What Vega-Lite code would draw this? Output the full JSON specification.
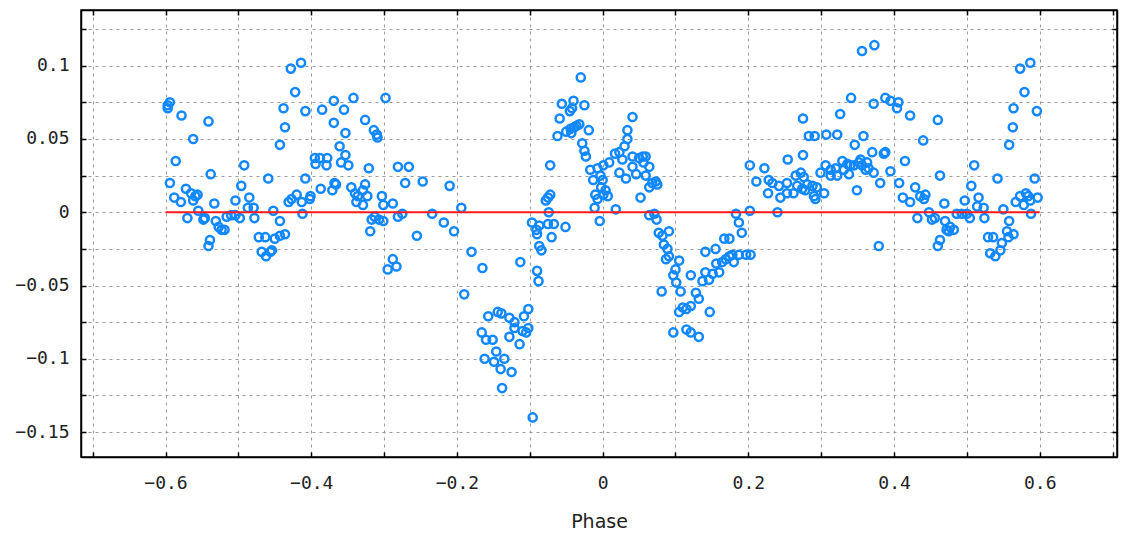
{
"$schema":"https://vega.github.io/schema/vega-lite/v6.json",
"width":1036,"height":447,
"autosize":{"type":"none"},
"padding":{"left":81,"top":10,"right":4,"bottom":76},
"background":"white",
"config":{
 "view":{"stroke":"#000","strokeWidth":1.5},
 "axis":{"domainColor":"#000","domainWidth":1.5,"tickColor":"#000","tickWidth":1.5,"tickSize":-5,
  "gridColor":"#9a9a9a","gridDash":[3,4],"gridWidth":1,
  "labelFont":"DejaVu Sans Mono","labelFontSize":18,"labelColor":"#222","titleFont":"DejaVu Sans","titleFontSize":19,"titleFontWeight":"normal","titleColor":"#222"}
},
"datasets":{
"zero":[{"phase":-0.6,"value":0},{"phase":0.6,"value":0}],
"pts":[
{"phase":-0.597,"value":0.073},{"phase":-0.594,"value":0.075},{"phase":-0.597,"value":0.071},{"phase":-0.578,"value":0.066},{"phase":-0.541,"value":0.062},{"phase":-0.562,"value":0.050},{"phase":-0.586,"value":0.035},{"phase":-0.538,"value":0.026},{"phase":-0.492,"value":0.032},{"phase":-0.594,"value":0.020},{"phase":-0.588,"value":0.010},{"phase":-0.572,"value":0.016},{"phase":-0.579,"value":0.007},{"phase":-0.565,"value":0.013},{"phase":-0.559,"value":0.011},{"phase":-0.556,"value":0.012},{"phase":-0.562,"value":0.008},{"phase":-0.570,"value":-0.004},{"phase":-0.555,"value":0.001},{"phase":-0.548,"value":-0.005},{"phase":-0.546,"value":-0.004},{"phase":-0.533,"value":0.006},{"phase":-0.531,"value":-0.006},{"phase":-0.527,"value":-0.010},{"phase":-0.523,"value":-0.012},{"phase":-0.519,"value":-0.012},{"phase":-0.539,"value":-0.019},{"phase":-0.541,"value":-0.023},{"phase":-0.516,"value":-0.003},{"phase":-0.510,"value":-0.002},{"phase":-0.504,"value":-0.002},{"phase":-0.504,"value":0.008},{"phase":-0.496,"value":0.018},{"phase":-0.498,"value":-0.004},{"phase":-0.485,"value":0.010},{"phase":-0.487,"value":0.003},{"phase":-0.479,"value":0.003},{"phase":-0.478,"value":-0.004},{"phase":-0.472,"value":-0.017},{"phase":-0.463,"value":-0.017},{"phase":-0.468,"value":-0.027},{"phase":-0.462,"value":-0.030},{"phase":-0.456,"value":-0.027},{"phase":-0.454,"value":-0.026},{"phase":-0.450,"value":-0.018},{"phase":-0.443,"value":-0.016},{"phase":-0.436,"value":-0.015},{"phase":-0.443,"value":-0.006},{"phase":-0.452,"value":0.001},{"phase":-0.459,"value":0.023},{"phase":-0.431,"value":0.007},{"phase":-0.427,"value":0.009},{"phase":-0.420,"value":0.012},{"phase":-0.413,"value":0.007},{"phase":-0.412,"value":-0.001},{"phase":-0.408,"value":0.023},{"phase":-0.443,"value":0.046},{"phase":-0.436,"value":0.058},{"phase":-0.438,"value":0.071},{"phase":-0.422,"value":0.082},{"phase":-0.428,"value":0.098},{"phase":-0.414,"value":0.102},{"phase":-0.408,"value":0.069},
{"phase":-0.385,"value":0.070},{"phase":-0.369,"value":0.076},{"phase":-0.355,"value":0.070},{"phase":-0.342,"value":0.078},{"phase":-0.298,"value":0.078},{"phase":-0.369,"value":0.061},{"phase":-0.353,"value":0.054},{"phase":-0.326,"value":0.063},{"phase":-0.314,"value":0.056},{"phase":-0.310,"value":0.053},{"phase":-0.309,"value":0.051},{"phase":-0.361,"value":0.045},{"phase":-0.353,"value":0.039},{"phase":-0.395,"value":0.037},{"phase":-0.388,"value":0.037},{"phase":-0.378,"value":0.037},{"phase":-0.394,"value":0.033},{"phase":-0.379,"value":0.032},{"phase":-0.359,"value":0.034},{"phase":-0.349,"value":0.032},{"phase":-0.321,"value":0.030},{"phase":-0.281,"value":0.031},{"phase":-0.266,"value":0.031},{"phase":-0.271,"value":0.020},{"phase":-0.247,"value":0.021},{"phase":-0.210,"value":0.018},{"phase":-0.401,"value":0.011},{"phase":-0.402,"value":0.009},{"phase":-0.387,"value":0.016},{"phase":-0.371,"value":0.015},{"phase":-0.368,"value":0.020},{"phase":-0.366,"value":0.019},{"phase":-0.345,"value":0.017},{"phase":-0.340,"value":0.013},{"phase":-0.336,"value":0.011},{"phase":-0.338,"value":0.007},{"phase":-0.329,"value":0.015},{"phase":-0.326,"value":0.019},{"phase":-0.323,"value":0.011},{"phase":-0.329,"value":0.005},{"phase":-0.303,"value":0.011},{"phase":-0.301,"value":0.005},{"phase":-0.317,"value":-0.005},{"phase":-0.313,"value":-0.003},{"phase":-0.307,"value":-0.005},{"phase":-0.301,"value":-0.006},{"phase":-0.319,"value":-0.013},{"phase":-0.288,"value":0.006},{"phase":-0.281,"value":-0.003},{"phase":-0.275,"value":-0.001},{"phase":-0.255,"value":-0.016},{"phase":-0.234,"value":-0.001},{"phase":-0.218,"value":-0.007},{"phase":-0.204,"value":-0.013},{"phase":-0.295,"value":-0.039},{"phase":-0.288,"value":-0.032},{"phase":-0.283,"value":-0.037},
{"phase":-0.194,"value":0.003},{"phase":-0.180,"value":-0.027},{"phase":-0.165,"value":-0.038},{"phase":-0.190,"value":-0.056},{"phase":-0.113,"value":-0.034},{"phase":-0.157,"value":-0.071},{"phase":-0.144,"value":-0.068},{"phase":-0.139,"value":-0.069},{"phase":-0.128,"value":-0.072},{"phase":-0.121,"value":-0.075},{"phase":-0.108,"value":-0.071},{"phase":-0.102,"value":-0.066},{"phase":-0.166,"value":-0.082},{"phase":-0.160,"value":-0.087},{"phase":-0.151,"value":-0.087},{"phase":-0.128,"value":-0.085},{"phase":-0.114,"value":-0.090},{"phase":-0.110,"value":-0.081},{"phase":-0.105,"value":-0.082},{"phase":-0.102,"value":-0.079},{"phase":-0.121,"value":-0.079},{"phase":-0.162,"value":-0.100},{"phase":-0.149,"value":-0.102},{"phase":-0.146,"value":-0.095},{"phase":-0.135,"value":-0.100},{"phase":-0.140,"value":-0.107},{"phase":-0.125,"value":-0.109},{"phase":-0.138,"value":-0.120},{"phase":-0.096,"value":-0.140},{"phase":-0.097,"value":-0.007},{"phase":-0.091,"value":-0.012},{"phase":-0.087,"value":-0.009},{"phase":-0.090,"value":-0.015},{"phase":-0.087,"value":-0.023},{"phase":-0.084,"value":-0.026},{"phase":-0.090,"value":-0.040},{"phase":-0.088,"value":-0.047},{"phase":-0.075,"value":-0.008},{"phase":-0.067,"value":-0.008},{"phase":-0.070,"value":-0.017},{"phase":-0.051,"value":-0.010},{"phase":-0.074,"value":0.000},{"phase":-0.078,"value":0.008},{"phase":-0.072,"value":0.012},{"phase":-0.075,"value":0.010},{"phase":-0.072,"value":0.032},{"phase":-0.062,"value":0.052},{"phase":-0.059,"value":0.064},{"phase":-0.056,"value":0.074},{"phase":-0.050,"value":0.055},{"phase":-0.044,"value":0.057},{"phase":-0.039,"value":0.058},{"phase":-0.032,"value":0.060},{"phase":-0.036,"value":0.059},{"phase":-0.043,"value":0.054},{"phase":-0.040,"value":0.076},{"phase":-0.042,"value":0.071},{"phase":-0.045,"value":0.069},{"phase":-0.025,"value":0.073},{"phase":-0.030,"value":0.092},{"phase":-0.019,"value":0.056},{"phase":-0.028,"value":0.047},{"phase":-0.025,"value":0.042},{"phase":-0.023,"value":0.038},{"phase":-0.017,"value":0.029},{"phase":-0.013,"value":0.022},{"phase":-0.007,"value":0.030},{"phase":-0.003,"value":0.025},{"phase":-0.010,"value":0.012},{"phase":-0.007,"value":0.009},{"phase":-0.011,"value":0.003},{"phase":-0.004,"value":-0.006},
{"phase":0.041,"value":0.065},{"phase":0.034,"value":0.056},{"phase":0.034,"value":0.050},{"phase":0.030,"value":0.045},{"phase":0.017,"value":0.040},{"phase":0.023,"value":0.041},{"phase":0.027,"value":0.036},{"phase":0.009,"value":0.034},{"phase":0.001,"value":0.032},{"phase":0.041,"value":0.038},{"phase":0.050,"value":0.037},{"phase":0.055,"value":0.038},{"phase":0.059,"value":0.038},{"phase":0.064,"value":0.031},{"phase":0.056,"value":0.034},{"phase":0.023,"value":0.027},{"phase":0.032,"value":0.023},{"phase":0.046,"value":0.026},{"phase":0.041,"value":0.031},{"phase":0.059,"value":0.025},{"phase":0.064,"value":0.017},{"phase":0.068,"value":0.020},{"phase":0.073,"value":0.021},{"phase":0.075,"value":0.019},{"phase":0.052,"value":0.010},{"phase":0.000,"value":0.022},{"phase":0.004,"value":0.015},{"phase":0.007,"value":0.011},{"phase":0.001,"value":0.012},{"phase":-0.002,"value":0.017},{"phase":0.018,"value":0.002},{"phase":0.064,"value":-0.002},{"phase":0.071,"value":-0.001},{"phase":0.074,"value":-0.005},{"phase":0.077,"value":-0.014},{"phase":0.082,"value":-0.016},{"phase":0.091,"value":-0.013},{"phase":0.084,"value":-0.022},{"phase":0.089,"value":-0.025},{"phase":0.091,"value":-0.030},{"phase":0.087,"value":-0.032},{"phase":0.081,"value":-0.054},{"phase":0.105,"value":-0.033},{"phase":0.100,"value":-0.039},{"phase":0.097,"value":-0.043},{"phase":0.101,"value":-0.048},{"phase":0.107,"value":-0.054},{"phase":0.110,"value":-0.065},{"phase":0.105,"value":-0.068},{"phase":0.115,"value":-0.066},{"phase":0.121,"value":-0.064},{"phase":0.097,"value":-0.082},{"phase":0.115,"value":-0.080},{"phase":0.121,"value":-0.082},{"phase":0.132,"value":-0.085},{"phase":0.121,"value":-0.043},{"phase":0.128,"value":-0.055},{"phase":0.132,"value":-0.059},{"phase":0.137,"value":-0.047},{"phase":0.141,"value":-0.041},{"phase":0.146,"value":-0.046},{"phase":0.141,"value":-0.027},{"phase":0.147,"value":-0.068},{"phase":0.151,"value":-0.042},{"phase":0.156,"value":-0.035},{"phase":0.160,"value":-0.041},{"phase":0.164,"value":-0.034},{"phase":0.169,"value":-0.032},{"phase":0.174,"value":-0.030},{"phase":0.155,"value":-0.025},{"phase":0.167,"value":-0.018},{"phase":0.174,"value":-0.018},{"phase":0.178,"value":-0.029},{"phase":0.187,"value":-0.029},{"phase":0.197,"value":-0.029},{"phase":0.203,"value":-0.029},{"phase":0.183,"value":-0.001},{"phase":0.187,"value":-0.007},{"phase":0.191,"value":-0.014},{"phase":0.180,"value":-0.034},{"phase":0.202,"value":0.032},{"phase":0.202,"value":0.001},
{"phase":0.222,"value":0.030},{"phase":0.211,"value":0.021},{"phase":0.240,"value":0.000},{"phase":0.228,"value":0.022},{"phase":0.233,"value":0.020},{"phase":0.227,"value":0.013},{"phase":0.242,"value":0.018},{"phase":0.244,"value":0.010},{"phase":0.253,"value":0.013},{"phase":0.253,"value":0.020},{"phase":0.254,"value":0.036},{"phase":0.275,"value":0.039},{"phase":0.275,"value":0.064},{"phase":0.283,"value":0.052},{"phase":0.291,"value":0.052},{"phase":0.307,"value":0.053},{"phase":0.322,"value":0.053},{"phase":0.326,"value":0.067},{"phase":0.341,"value":0.078},{"phase":0.356,"value":0.110},{"phase":0.373,"value":0.114},{"phase":0.372,"value":0.074},{"phase":0.388,"value":0.078},{"phase":0.395,"value":0.076},{"phase":0.346,"value":0.046},{"phase":0.358,"value":0.052},{"phase":0.370,"value":0.041},{"phase":0.386,"value":0.040},{"phase":0.388,"value":0.041},{"phase":0.265,"value":0.025},{"phase":0.272,"value":0.027},{"phase":0.276,"value":0.024},{"phase":0.267,"value":0.018},{"phase":0.262,"value":0.013},{"phase":0.274,"value":0.016},{"phase":0.281,"value":0.019},{"phase":0.278,"value":0.015},{"phase":0.288,"value":0.018},{"phase":0.294,"value":0.017},{"phase":0.290,"value":0.011},{"phase":0.292,"value":0.009},{"phase":0.304,"value":0.013},{"phase":0.299,"value":0.027},{"phase":0.306,"value":0.032},{"phase":0.313,"value":0.029},{"phase":0.320,"value":0.030},{"phase":0.313,"value":0.025},{"phase":0.322,"value":0.025},{"phase":0.329,"value":0.035},{"phase":0.331,"value":0.029},{"phase":0.336,"value":0.033},{"phase":0.340,"value":0.032},{"phase":0.338,"value":0.026},{"phase":0.345,"value":0.032},{"phase":0.352,"value":0.034},{"phase":0.356,"value":0.032},{"phase":0.361,"value":0.029},{"phase":0.365,"value":0.030},{"phase":0.354,"value":0.036},{"phase":0.363,"value":0.034},{"phase":0.372,"value":0.027},{"phase":0.381,"value":0.020},{"phase":0.395,"value":0.028},{"phase":0.349,"value":0.015},{"phase":0.379,"value":-0.023},
{"phase":0.406,"value":0.075},{"phase":0.404,"value":0.071},{"phase":0.422,"value":0.066},{"phase":0.460,"value":0.063},{"phase":0.440,"value":0.049},{"phase":0.415,"value":0.035},{"phase":0.463,"value":0.025},{"phase":0.510,"value":0.032},{"phase":0.542,"value":0.023},{"phase":0.407,"value":0.020},{"phase":0.412,"value":0.010},{"phase":0.422,"value":0.007},{"phase":0.429,"value":0.017},{"phase":0.436,"value":0.011},{"phase":0.443,"value":0.012},{"phase":0.441,"value":0.009},{"phase":0.448,"value":0.000},{"phase":0.432,"value":-0.004},{"phase":0.452,"value":-0.005},{"phase":0.456,"value":-0.004},{"phase":0.469,"value":0.006},{"phase":0.470,"value":-0.006},{"phase":0.472,"value":-0.012},{"phase":0.477,"value":-0.010},{"phase":0.482,"value":-0.012},{"phase":0.475,"value":-0.013},{"phase":0.463,"value":-0.019},{"phase":0.460,"value":-0.023},{"phase":0.486,"value":-0.001},{"phase":0.493,"value":-0.001},{"phase":0.500,"value":-0.001},{"phase":0.504,"value":-0.004},{"phase":0.497,"value":0.008},{"phase":0.506,"value":0.018},{"phase":0.516,"value":0.010},{"phase":0.514,"value":0.004},{"phase":0.523,"value":0.003},{"phase":0.524,"value":-0.004},{"phase":0.529,"value":-0.017},{"phase":0.536,"value":-0.017},{"phase":0.532,"value":-0.028},{"phase":0.539,"value":-0.030},{"phase":0.546,"value":-0.026},{"phase":0.548,"value":-0.021},{"phase":0.550,"value":0.002},{"phase":0.558,"value":-0.006},{"phase":0.555,"value":-0.013},{"phase":0.564,"value":-0.015},{"phase":0.557,"value":-0.017},{"phase":0.567,"value":0.007},{"phase":0.573,"value":0.011},{"phase":0.578,"value":0.005},{"phase":0.581,"value":0.013},{"phase":0.587,"value":0.008},{"phase":0.588,"value":-0.001},{"phase":0.593,"value":0.023},{"phase":0.597,"value":0.010},{"phase":0.584,"value":0.011},{"phase":0.558,"value":0.046},{"phase":0.563,"value":0.058},{"phase":0.564,"value":0.071},{"phase":0.579,"value":0.082},{"phase":0.573,"value":0.098},{"phase":0.587,"value":0.102},{"phase":0.596,"value":0.069}
]},
"layer":[
{"data":{"name":"pts"},
 "mark":{"type":"point","shape":"circle","filled":false,"strokeWidth":2.5,"size":66,"color":"#1188ff","opacity":1},
 "encoding":{
  "x":{"field":"phase","type":"quantitative","scale":{"domain":[-0.716,0.706],"nice":false,"zero":false},
   "axis":{"values":[-0.7,-0.6,-0.5,-0.4,-0.3,-0.2,-0.1,0,0.1,0.2,0.3,0.4,0.5,0.6,0.7],
    "labelExpr":"abs(round(datum.value*10))%2==0 ? format(datum.value,'~g') : ''",
    "grid":true,"labelPadding":22,"title":"Phase","titlePadding":20}},
  "y":{"field":"value","type":"quantitative","scale":{"domain":[-0.167,0.138],"nice":false,"zero":false},
   "axis":{"values":[-0.15,-0.125,-0.1,-0.075,-0.05,-0.025,0,0.025,0.05,0.075,0.1,0.125],
    "labelExpr":"abs(round(datum.value*40))%2==0 ? format(datum.value,'~g') : ''",
    "grid":true,"labelPadding":17,"title":null}}
 }},
{"data":{"name":"zero"},
 "mark":{"type":"line","color":"#ff1a1a","strokeWidth":2},
 "encoding":{
  "x":{"field":"phase","type":"quantitative","axis":{"orient":"top","values":[-0.7,-0.6,-0.5,-0.4,-0.3,-0.2,-0.1,0,0.1,0.2,0.3,0.4,0.5,0.6,0.7],"labels":false,"grid":false,"title":null}},
  "y":{"field":"value","type":"quantitative","axis":{"orient":"right","values":[-0.15,-0.125,-0.1,-0.075,-0.05,-0.025,0,0.025,0.05,0.075,0.1,0.125],"labels":false,"grid":false,"title":null}}
 }}
],
"resolve":{"axis":{"x":"independent","y":"independent"}}
}
